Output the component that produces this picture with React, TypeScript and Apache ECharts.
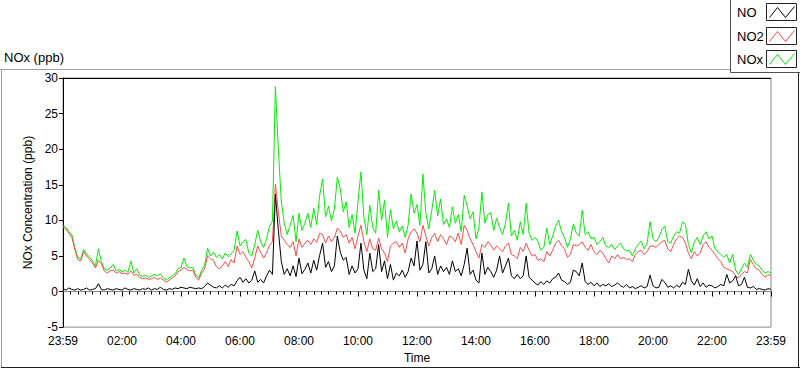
import React, { useEffect, useRef } from "react";
import * as echarts from "echarts";

const STEP_MINUTES = 6;

const TIME_TICK_LABELS = ["23:59", "02:00", "04:00", "06:00", "08:00", "10:00", "12:00", "14:00", "16:00", "18:00", "20:00", "22:00", "23:59"];

const SERIES_NAMES = ["NO", "NO2", "NOx"];

const NOX_VALUES = [
  9.3, 9.0, 8.4, 8.0, 6.2, 4.8, 4.6, 5.9, 5.3, 4.8,
  4.3, 3.6, 6.0, 4.2, 3.2, 3.0, 3.3, 3.8, 2.9, 3.1,
  2.8, 3.0, 2.7, 4.3, 2.6, 3.2, 2.3, 2.1, 2.3, 2.0,
  2.2, 2.4, 2.2, 2.5, 1.9, 1.6, 1.9, 2.2, 2.5, 3.2,
  3.4, 4.7, 3.5, 3.3, 3.4, 2.3, 1.9, 3.0, 3.7, 6.1,
  5.0, 5.5, 4.8, 5.2, 4.6, 5.4, 4.9, 5.3, 5.8, 8.5,
  6.4, 7.0, 7.3, 5.4, 5.0, 6.6, 8.6, 7.0, 6.2, 7.4,
  9.2, 9.9, 28.8, 20.0, 12.6, 9.6, 8.0, 9.3, 10.7, 7.0,
  11.0, 8.6, 9.6, 11.0, 9.0, 11.7, 9.4, 13.5, 15.8, 10.5,
  12.0, 9.9, 11.6, 16.1, 14.4, 11.2, 12.6, 9.0, 10.8, 8.2,
  12.6, 16.8, 10.4, 8.0, 12.1, 9.0, 8.2, 14.2, 10.0, 12.8,
  7.6, 11.5, 8.8, 9.9, 8.4, 9.2, 7.6, 9.4, 13.7, 11.0,
  12.2, 9.3, 16.5, 11.0, 8.8, 11.4, 14.2, 10.6, 13.0, 9.4,
  10.2, 9.0, 11.9, 9.6, 10.8, 8.4, 13.5, 12.0, 10.2, 11.2,
  7.4, 9.0, 14.0, 9.6, 10.8, 11.1, 8.6, 10.3, 9.0, 8.0,
  9.6, 12.4, 7.8, 8.6, 7.2, 9.8, 8.0, 12.4, 8.2, 7.2,
  7.6, 7.0, 5.8, 6.2, 8.9, 6.6, 7.8, 9.2, 10.0, 8.4,
  7.6, 6.2, 7.4, 9.5, 8.2, 7.8, 11.4, 8.0, 8.4, 7.4,
  7.6, 6.6, 7.0, 7.6, 6.4, 6.2, 6.6, 5.9, 6.4, 6.8,
  6.0, 5.7, 5.8, 5.0, 6.0, 6.6, 7.1, 6.0, 6.8, 9.8,
  7.4, 7.0, 7.6, 8.7, 9.2, 7.0, 6.8, 7.8, 8.4, 8.2,
  9.8, 9.4, 6.6, 5.4, 7.0, 7.6, 6.6, 7.8, 8.4, 7.4,
  7.8, 6.0, 5.6, 5.2, 4.8, 5.2, 4.0, 5.2, 3.0, 2.4,
  3.2, 4.0, 3.4, 5.2, 4.4, 3.8, 3.6, 3.0, 2.6, 2.8, 2.6,
];

const NO2_VALUES = [
  9.0, 8.8, 8.2, 7.6, 5.9, 4.5, 4.3, 5.6, 5.0, 4.5,
  4.0, 3.3, 4.4, 3.9, 2.9, 2.6, 2.9, 3.0, 2.6, 2.8,
  2.5, 2.6, 2.4, 2.9, 2.3, 2.4, 2.0, 1.8, 1.9, 1.7,
  1.8, 2.0, 1.7, 1.9, 1.6, 1.3, 1.6, 1.9, 2.2, 2.8,
  3.0, 3.4, 3.1, 2.9, 3.0, 2.0, 1.6, 2.6, 3.2, 5.0,
  4.6, 4.4, 3.5, 3.2, 3.6, 4.2, 3.5, 4.5, 4.0, 6.4,
  5.2, 5.6, 4.8, 4.2, 3.3, 4.7, 6.4, 5.5, 4.7, 5.4,
  6.5, 7.0, 15.1, 11.2, 7.8, 7.2, 6.6, 6.2, 7.0, 5.0,
  7.4, 6.2, 6.8, 7.2, 6.6, 7.4, 6.9, 8.2, 8.0, 6.8,
  7.8, 7.0, 7.6, 8.9, 8.5, 7.6, 8.0, 6.8, 7.6, 6.0,
  7.8, 9.3, 7.0, 5.6, 7.4, 6.0, 5.8, 7.5, 6.0, 5.4,
  4.2, 6.4, 6.8, 7.0, 6.2, 6.8, 5.4, 7.4, 8.4, 8.8,
  8.2, 7.0, 9.3, 7.8, 6.4, 7.6, 8.2, 7.0, 8.0, 7.4,
  6.6, 7.8, 7.6, 7.0, 8.2, 6.6, 9.3, 8.6, 7.4, 6.6,
  5.6, 4.7, 6.6, 6.2, 7.0, 6.6, 5.8, 6.4, 6.0, 5.6,
  6.4, 6.8, 5.2, 5.0, 4.6, 6.2, 5.6, 6.8, 5.8, 5.0,
  5.2, 4.4, 4.6, 4.2, 5.6, 5.0, 5.8, 6.8, 7.2, 6.4,
  6.0, 4.8, 5.2, 6.6, 6.4, 6.6, 7.0, 6.2, 5.8, 6.6,
  5.6, 5.2, 5.8, 5.4, 4.6, 4.0, 5.0, 4.6, 5.2, 4.6,
  4.8, 4.5, 4.6, 4.2, 5.2, 5.6, 5.8, 5.2, 5.6, 6.4,
  6.4, 6.2, 6.6, 7.0, 7.2, 6.0, 5.6, 6.6, 7.4, 7.8,
  7.6, 6.8, 5.4, 4.6, 5.6, 5.0, 5.4, 6.6, 7.0, 6.2,
  5.8, 5.2, 4.6, 4.2, 3.4, 3.2, 3.0, 2.8, 2.2, 1.9,
  2.4, 2.8, 2.6, 4.5, 3.8, 3.2, 3.0, 2.4, 2.0, 2.4, 2.2,
];

const NO_VALUES = [
  0.4, 0.2, 0.5, 0.3, 0.2, 0.4, 0.2, 0.3, 0.5, 0.2,
  0.3, 0.4, 1.1, 0.3, 0.2, 0.4, 0.3, 0.2, 0.4, 0.3,
  0.2, 0.5, 0.3, 0.2, 0.4, 0.3, 0.2, 0.4, 0.3, 0.5,
  0.2, 0.4, 0.3, 0.6, 0.3, 0.2, 0.4, 0.3, 0.5, 0.4,
  0.6, 0.5, 0.4, 0.6, 0.5, 0.4, 0.5, 0.4, 0.7, 1.2,
  0.9, 0.6, 0.5, 0.8, 0.5, 0.9, 0.6, 1.0, 0.8, 1.5,
  2.0, 1.3, 1.8, 1.2, 1.6, 2.9, 1.3, 1.7, 1.2, 2.2,
  3.0, 2.4, 13.7, 8.6, 4.2, 2.4, 3.2, 2.2, 3.6, 2.1,
  4.7, 2.5, 3.1, 4.0, 2.6, 4.4, 3.0, 5.1, 6.8, 3.4,
  4.2, 2.8, 3.6, 7.8, 5.5, 4.4, 4.8, 2.4, 3.6, 2.6,
  3.2, 6.8, 3.0, 1.8, 5.4, 2.8, 3.2, 6.6, 2.8, 4.3,
  1.8, 3.8, 1.6, 2.6, 2.2, 3.0, 2.0, 2.8, 4.7, 3.6,
  7.1, 3.0, 3.8, 7.0, 2.6, 3.2, 5.0, 2.4, 3.6, 2.8,
  3.4, 2.4, 4.3, 2.8, 3.2, 2.2, 3.8, 6.1, 2.4, 3.0,
  1.6, 1.2, 5.4, 2.4, 3.4, 2.8, 2.0, 3.0, 5.0, 2.6,
  3.6, 4.7, 2.2, 1.8, 2.4, 1.8, 2.2, 5.0, 2.0, 1.6,
  1.2, 0.9, 1.4, 1.0, 1.5, 1.2, 1.8, 2.0, 2.6, 1.6,
  1.4, 1.0, 1.3, 3.0, 2.8, 2.2, 4.0, 1.4, 1.0, 1.3,
  0.8, 1.2, 0.7, 1.0, 0.8, 1.1, 0.7, 0.9, 1.2, 0.8,
  0.6, 1.0, 0.5, 0.7, 0.4, 0.6, 0.8, 0.5, 0.7, 2.3,
  0.8, 0.5, 0.6, 1.7, 1.3, 0.6, 0.8, 0.5, 0.9, 0.6,
  1.3, 1.0, 3.1, 1.5, 0.9, 1.8, 0.7, 1.2, 0.6, 0.9,
  0.8, 0.5, 0.7, 1.0, 0.8, 2.4, 1.2, 1.5, 2.2, 0.8,
  1.0, 2.0, 0.6, 0.5, 0.7, 0.3, 0.4, 0.3, 0.2, 0.4, 0.3,
];

const COLORS = { NO: "#000000", NO2: "#ff4a4a", NOx: "#00f000" };
const FONT = "'Liberation Sans', Arial, sans-serif";

function toPairs(values: number[]) {
  return values.map((v, i) => [i * STEP_MINUTES, v]);
}

function legendEntry(name: string, color: string, cy: number) {
  const bx = 766.5;
  const by = cy - 8.5;
  return [
    {
      type: "text",
      style: { text: name, x: 737, y: cy, verticalAlign: "middle", font: `13px ${FONT}`, fill: "#000" },
      z: 12,
    },
    {
      type: "rect",
      shape: { x: bx, y: by, width: 30, height: 17 },
      style: { fill: "#fff", stroke: "#222", lineWidth: 1 },
      z: 12,
    },
    {
      type: "polyline",
      shape: { points: [[bx + 3, by + 14], [bx + 11, by + 4], [bx + 19, by + 14], [bx + 28, by + 3]] },
      style: { stroke: color, fill: null, lineWidth: 1 },
      z: 13,
    },
  ];
}

export default function App() {
  const ref = useRef<HTMLDivElement>(null);
  useEffect(() => {
    if (!ref.current) return;
    const chart = echarts.init(ref.current, undefined, { renderer: "svg" });
    const option: any = {
      animation: false,
      backgroundColor: "#fff",
      textStyle: { fontFamily: FONT },
      grid: {
        left: 63,
        top: 78,
        width: 708,
        height: 252,
        show: true,
        backgroundColor: "#fff",
        borderColor: "#8a8a8a",
        borderWidth: 1,
      },
      xAxis: {
        type: "value",
        min: 0,
        max: 1440,
        interval: 120,
        name: "Time",
        nameLocation: "middle",
        nameGap: 24,
        nameTextStyle: { fontSize: 12, color: "#000", fontFamily: FONT },
        axisLine: { show: true, lineStyle: { color: "#8a8a8a", width: 1 } },
        axisTick: { show: true, length: 5, lineStyle: { color: "#000" } },
        minorTick: { show: true, splitNumber: 8, length: 3, lineStyle: { color: "#000" } },
        splitLine: { show: false },
        axisLabel: {
          margin: 8,
          fontSize: 12,
          color: "#000",
          fontFamily: FONT,
          formatter: (v: number) => TIME_TICK_LABELS[Math.round(v / 120)] ?? "",
        },
      },
      yAxis: {
        type: "value",
        min: -5,
        max: 30,
        interval: 5,
        name: "NOx Concentration (ppb)",
        nameLocation: "middle",
        nameGap: 21,
        nameTextStyle: { fontSize: 12, color: "#000", fontFamily: FONT },
        axisLine: { show: true, lineStyle: { color: "#000", width: 1 } },
        axisTick: { show: true, length: 4, lineStyle: { color: "#000" } },
        splitLine: { show: false },
        axisLabel: { margin: 5, fontSize: 12, color: "#000", fontFamily: FONT },
      },
      series: [
        {
          name: "NOx",
          type: "line",
          data: toPairs(NOX_VALUES),
          showSymbol: false,
          lineStyle: { color: COLORS.NOx, width: 1 },
          itemStyle: { color: COLORS.NOx },
          z: 2,
        },
        {
          name: "NO2",
          type: "line",
          data: toPairs(NO2_VALUES),
          showSymbol: false,
          lineStyle: { color: COLORS.NO2, width: 1 },
          itemStyle: { color: COLORS.NO2 },
          z: 3,
        },
        {
          name: "NO",
          type: "line",
          data: toPairs(NO_VALUES),
          showSymbol: false,
          lineStyle: { color: COLORS.NO, width: 1 },
          itemStyle: { color: COLORS.NO },
          z: 4,
        },
      ],
      graphic: [
        { type: "line", shape: { x1: 0, y1: 69.5, x2: 731, y2: 69.5 }, style: { stroke: "#a0a0a0", lineWidth: 1 }, z: 10 },
        { type: "line", shape: { x1: 1.5, y1: 69.5, x2: 1.5, y2: 368 }, style: { stroke: "#a0a0a0", lineWidth: 1 }, z: 10 },
        { type: "line", shape: { x1: 1, y1: 367.5, x2: 800, y2: 367.5 }, style: { stroke: "#202020", lineWidth: 1 }, z: 10 },
        { type: "line", shape: { x1: 798.5, y1: 72, x2: 798.5, y2: 368 }, style: { stroke: "#202020", lineWidth: 1 }, z: 10 },
        { type: "line", shape: { x1: 63, y1: 78.5, x2: 771, y2: 78.5 }, style: { stroke: "#000", lineWidth: 1 }, z: 10 },
        {
          type: "text",
          style: { text: "NOx (ppb)", x: 4, y: 57, verticalAlign: "middle", font: `13px ${FONT}`, fill: "#000" },
          z: 10,
        },
        {
          type: "rect",
          shape: { x: 730.5, y: -2, width: 72, height: 74.5 },
          style: { fill: "#fff", stroke: "#505050", lineWidth: 1 },
          z: 11,
        },
        ...legendEntry(SERIES_NAMES[0], COLORS.NO, 12),
        ...legendEntry(SERIES_NAMES[1], COLORS.NO2, 36),
        ...legendEntry(SERIES_NAMES[2], COLORS.NOx, 59),
      ],
    };
    chart.setOption(option);
    return () => chart.dispose();
  }, []);
  return (
    <div
      ref={ref}
      style={{ position: "fixed", left: 0, top: 0, width: 800, height: 369, background: "#fff" }}
    />
  );
}
